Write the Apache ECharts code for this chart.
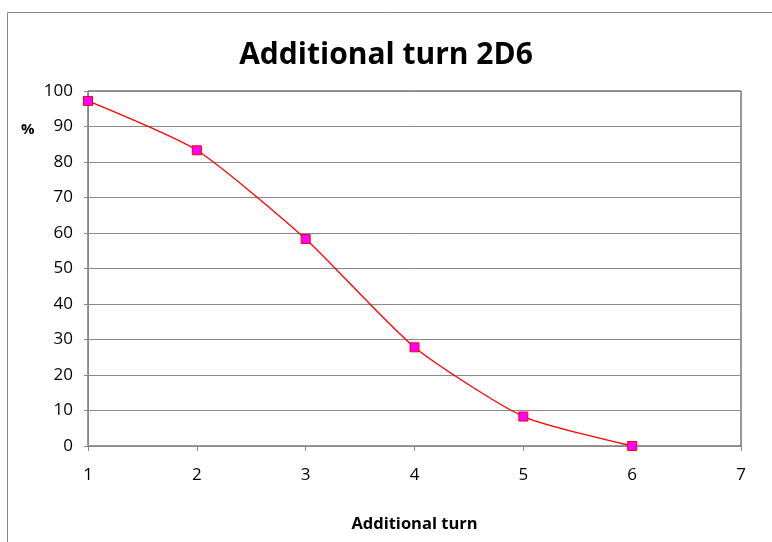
<!DOCTYPE html>
<html><head><meta charset="utf-8">
<script src="https://cdn.jsdelivr.net/npm/echarts@6/dist/echarts.min.js"></script>
<style>html,body{margin:0;padding:0;background:#fff}#c{width:772px;height:542px}</style>
</head><body><div id="c"></div>
<script>
const turns = [1, 2, 3, 4, 5, 6];
const percent = [97.2, 83.3, 58.3, 27.8, 8.3, 0];
const yTicks = [0, 10, 20, 30, 40, 50, 60, 70, 80, 90, 100];
const xTicks = [1, 2, 3, 4, 5, 6, 7];
const FONT = '"Open Sans", "Liberation Sans", sans-serif';
const chart = echarts.init(document.getElementById('c'));
chart.setOption({
  animation: false,
  backgroundColor: '#fff',
  textStyle: { fontFamily: FONT },
  title: { text: 'Additional turn 2D6', left: 'center', top: 35, textStyle: { fontFamily: FONT, fontSize: 30, fontWeight: 'bold', color: '#000' } },
  grid: { left: 88, right: 31, top: 91, bottom: 96, show: true, borderColor: '#333', borderWidth: 1 },
  xAxis: {
    type: 'value', min: xTicks[0], max: xTicks[xTicks.length - 1], interval: 1,
    name: 'Additional turn', nameLocation: 'middle', nameGap: 70,
    nameTextStyle: { fontFamily: FONT, fontSize: 16.5, fontWeight: 'bold', color: '#000' },
    axisLine: { lineStyle: { color: '#888' } },
    axisTick: { show: true, length: 5, lineStyle: { color: '#888' } },
    axisLabel: { fontSize: 17, color: '#000', margin: 21 },
    splitLine: { show: false }
  },
  yAxis: {
    type: 'value', min: yTicks[0], max: yTicks[yTicks.length - 1], interval: 10,
    axisLine: { show: true, lineStyle: { color: '#888' } },
    axisTick: { show: true, length: 4, lineStyle: { color: '#888' } },
    axisLabel: { fontSize: 17, color: '#000', margin: 15 },
    splitLine: { show: true, lineStyle: { color: '#888', width: 1 } }
  },
  graphic: [
    { type: 'rect', shape: { x: 7.5, y: 12.5, width: 780, height: 560 }, style: { fill: 'none', stroke: '#888', lineWidth: 1 }, silent: true },
    { type: 'text', left: 21, top: 122, style: { text: '%', fontFamily: FONT, fontSize: 15, fontWeight: 'bold', fill: '#000' } }
  ],
  series: [{
    type: 'line', smooth: 0.2,
    data: turns.map((t, i) => [t, percent[i]]),
    symbol: 'rect', symbolSize: 9,
    lineStyle: { color: '#ff0000', width: 1.3 },
    itemStyle: { color: '#ff00ff', borderColor: '#ff0000', borderWidth: 1 }
  }]
});
</script></body></html>
